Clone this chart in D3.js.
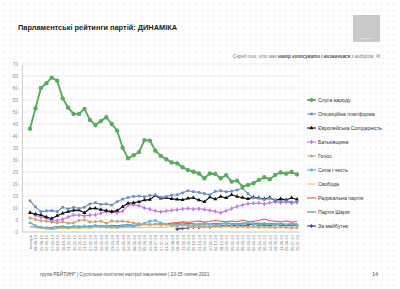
<!DOCTYPE html>
<html>
<head>
<meta charset="utf-8">
<script src="https://cdn.jsdelivr.net/npm/d3@7"></script>
<style>
  html, body { margin: 0; padding: 0; background: #fff; }
  svg { display: block; font-family: Arial, "Liberation Sans", sans-serif; }
</style>
</head>
<body>
<svg id="chart"></svg>
<script>
const categories = ['вибори',
  '08.08.19', '29.08.19', '12.09.19', '27.09.19', '04.10.19', '18.10.19', '01.11.19', '15.11.19', '29.11.19', '13.12.19',
  '17.01.20', '31.01.20', '14.02.20', '28.02.20', '13.03.20', '27.03.20', '10.04.20', '24.04.20', '08.05.20', '22.05.20',
  '05.06.20', '19.06.20', '03.07.20', '17.07.20', '31.07.20', '14.08.20', '28.08.20', '11.09.20', '25.09.20', '09.10.20',
  '23.10.20', '06.11.20', '20.11.20', '04.12.20', '18.12.20', '22.01.21', '05.02.21', '19.02.21', '05.03.21', '19.03.21',
  '02.04.21', '16.04.21', '30.04.21', '14.05.21', '28.05.21', '11.06.21', '25.06.21', '09.07.21', '25.07.21']

const slugaNarodu = [43, 51.5, 60, 62, 64.3, 63, 55.7, 51.8, 49.2, 49.2,
  51.3, 46.7, 44.6, 46.2, 47.8, 45, 42.2, 35.1, 30.7, 32,
  33.3, 38.3, 38.1, 33.9, 31.7, 30.3, 29, 28.6, 27, 25.8,
  25.1, 24.4, 22.4, 24.4, 24.2, 22.4, 23.7, 21, 21.4, 18.9,
  19.6, 20.3, 21.7, 22.8, 22, 23.8, 24.8, 24.3, 25, 24]
const opzzh = [13, 10.5, 8.5, 8.8, 8.9, 8.5, 10.3, 9.6, 10.3, 9.8,
  10.3, 11.7, 12.2, 11.5, 11.7, 11.2, 12.6, 13.7, 14.4, 14.8,
  15, 14.7, 15.2, 15.4, 14.5, 14.8, 15.3, 15.5, 16.3, 17.2,
  16.8, 16.5, 16, 15.5, 16.9, 17.2, 16.8, 17, 17.5, 18.2,
  16, 14.2, 14, 13.5, 14, 13.3, 12.8, 13, 12.5, 12.6]
const evroSolid = [8, 7.5, 7.1, 6.2, 5.6, 6.8, 7.8, 8.5, 9, 9.1,
  8, 9.8, 9.9, 9.3, 8.9, 8.5, 8.9, 10.5, 12, 12.2,
  12.6, 13.3, 13.5, 15.2, 14, 14.3, 13.8, 13.6, 13.4, 14,
  14.2, 13.3, 12.6, 14.5, 13.7, 14.8, 14.2, 15.5, 14.8, 14.3,
  13.8, 14.5, 14.2, 13.8, 14.3, 13.2, 13.8, 13.4, 14.2, 13.6]
const batkivshchyna = [8.2, 7, 6.2, 5.8, 4.5, 4.8, 5.3, 6.2, 7.1, 7,
  6.7, 7, 7.2, 7.8, 8.5, 8.2, 8, 8.6, 11.2, 11.4,
  11, 10, 9.5, 8.8, 8.4, 8.7, 9, 9.3, 9.6, 9.8,
  9.5, 9.7, 9.4, 9, 8.6, 8, 8.8, 9.8, 10.6, 11.2,
  11.8, 12, 12.1, 11.7, 12.2, 12.5, 12.2, 12.4, 12, 12.3]
const golos = [5.8, 5.2, 4.7, 4.5, 4.2, 3.8, 4.3, 3.6, 3.9, 4.8,
  5, 4.2, 4.3, 4.5, 3.6, 4.6, 4.4, 4.5, 4.2, 3.8,
  3.5, 3.3, 3, 3.2, 2.9, 3.1, 2.7, 2.5, 2.8, 2.6,
  2.4, 2.7, 2.5, 2.3, 2.6, 2.2, 2.5, 2.4, 2.1, 2.3,
  2, 2.2, 1.9, 2.1, 2, 1.8, 2.1, 1.9, 1.7, 1.8]
const sylaIChest = [3.8, 2.6, 2, 1.8, 1.5, 1.9, 2.2, 1.8, 2.4, 2.1,
  2.5, 2.2, 2.7, 2.4, 2.1, 2.3, 2, 2.4, 2.6, 2.3,
  2.8, 3.6, 4.5, 4.8, 3.8, 3.2, 3, 2.8, 3.1, 2.9,
  2.7, 3.2, 3.5, 3.1, 2.9, 3.3, 3.6, 3.2, 3, 3.4,
  3.7, 3.3, 3.1, 3.5, 3.2, 3, 3.3, 2.9, 3.1, 2.8]
const svoboda = [2.2, 1.8, 1.5, 1.4, 1.2, 1.5, 1.6, 1.4, 1.7, 1.5,
  1.8, 1.6, 1.9, 2.1, 1.8, 1.6, 1.7, 1.9, 1.8, 2,
  1.7, 1.9, 2.1, 1.8, 2, 1.9, 2.2, 2, 1.8, 2.1,
  1.9, 2, 2.2, 1.9, 2.1, 2, 2.3, 2.1, 2, 2.2,
  2.4, 2.1, 2.3, 2, 2.2, 2.1, 1.9, 2.2, 2, 2.1]
const radykalna = [4, 2.5, 1.6, 1.4, 1.3, 1.5, 1.8, 1.6, 1.9, 1.7,
  2, 1.8, 2.1, 1.9, 2.2, 2, 2.3, 2.1, 2.5, 2.7,
  2.9, 3.1, 3.3, 3, 3.5, 3.4, 3.7, 3.9, 4.2, 4,
  4.3, 4.6, 4.1, 4.4, 4.8, 4.5, 4.2, 4.6, 4.3, 4.9,
  4.5, 4.4, 4.8, 5.4, 4.7, 4.5, 4.2, 4.6, 4.1, 4.4]
const shariy = [2.2, 2, 2.1, 1.8, 2, 2.2, 2.4, 2.1, 2.3, 2.5,
  2.2, 2.6, 2.4, 2.7, 2.5, 2.8, 2.6, 2.9, 3.1, 2.8,
  3, 3.2, 2.9, 3.3, 3.1, 3.4, 3.2, 3.5, 3.3, 3.6,
  3.4, 3.2, 3.5, 3.3, 3.6, 3.4, 3.7, 3.5, 3.3, 3.6,
  3.8, 3.5, 3.7, 3.4, 3.6, 3.3, 3.5, 3.2, 3.4, 3.3]
const zaMaybutnie = [null, null, null, null, null, null, null, null, null, null,
  null, null, null, null, null, null, null, null, null, null,
  null, null, null, null, null, null, null, 1.2, 1.5, 1.8,
  2, 1.9, 2.3, 2.1, 2.5, 2.4, 2.8, 2.6, 3, 2.7,
  2.9, 3.2, 2.8, 3, 2.7, 3.1, 2.9, 2.6, 2.8, 2.7]

const seriesNames = ['Слуга народу', 'Опозиційна платформа', 'Європейська Солідарність', 'Батьківщина',
  'Голос', 'Сила і честь', 'Свобода', 'Радикальна партія', 'Партія Шарія', 'За майбутнє']
const seriesValues = [slugaNarodu, opzzh, evroSolid, batkivshchyna, golos, sylaIChest, svoboda, radykalna, shariy, zaMaybutnie]
const yTicks = d3.range(0, 71, 5)

const colors = ['#5aab5e', '#6a8fc0', '#111111', '#c07ae0', '#d3a070', '#5ab6e2', '#f3c84a', '#e55a4e', '#3f9297', '#3b3d8f']
const symbols = [d3.symbolCircle, d3.symbolSquare, d3.symbolTriangle, d3.symbolDiamond, d3.symbolCircle,
  d3.symbolCircle, null, null, null, d3.symbolCross]

const w = 400
const h = 289
const svg = d3.select('#chart').attr('width', w).attr('height', h)

// faint graph-paper background
const bg = svg.append('g')
for (let x = 4; x < w; x += 6) {
  bg.append('line').attr('x1', x).attr('x2', x).attr('y1', 0).attr('y2', h)
    .attr('stroke', '#f3f3f3').attr('stroke-width', 0.5)
}
for (let y = 4; y < h; y += 6) {
  bg.append('line').attr('y1', y).attr('y2', y).attr('x1', 0).attr('x2', w)
    .attr('stroke', '#f3f3f3').attr('stroke-width', 0.5)
}

svg.append('text')
  .attr('x', 18).attr('y', 30)
  .attr('font-size', 7.4).attr('font-weight', 'bold').attr('fill', '#222')
  .text('Парламентські рейтинги партій: ДИНАМІКА')

svg.append('rect').attr('x', 353).attr('y', 15).attr('width', 27).attr('height', 27).attr('fill', '#c9c9c9')
svg.append('text').attr('x', 366.5).attr('y', 39).attr('text-anchor', 'middle')
  .attr('font-size', 2.5).attr('fill', '#fff').text('РЕЙТИНГ')

const sub = svg.append('text')
  .attr('x', 380).attr('y', 58).attr('text-anchor', 'end')
  .attr('font-size', 4.6).attr('font-style', 'italic').attr('fill', '#777')
sub.append('tspan').text('Серед тих, хто має ')
sub.append('tspan').attr('font-weight', 'bold').attr('fill', '#555').text('намір голосувати і визначився')
sub.append('tspan').text(' з вибором, %')

const xScale = d3.scalePoint().domain(categories).range([30, 297])
const yScale = d3.scaleLinear().domain([0, 70]).range([232, 64])

// horizontal gridlines
svg.append('g').selectAll('line').data(yTicks).enter().append('line')
  .attr('x1', 22).attr('x2', 300)
  .attr('y1', d => yScale(d)).attr('y2', d => yScale(d))
  .attr('stroke', '#e6e6e6').attr('stroke-width', 0.6)

const yAxis = d3.axisLeft(yScale).tickValues(yTicks).tickSize(0).tickPadding(4)
svg.append('g')
  .attr('transform', 'translate(22, 0)')
  .call(yAxis)
  .call(g => g.select('.domain').attr('stroke', '#cfcfcf'))
  .call(g => g.selectAll('text').attr('font-size', 5).attr('fill', '#999').attr('font-family', 'Arial, "Liberation Sans", sans-serif'))

const xAxis = d3.axisBottom(xScale).tickSize(0).tickPadding(3)
svg.append('g')
  .attr('transform', 'translate(0, 232)')
  .call(xAxis)
  .call(g => g.select('.domain').attr('stroke', '#cfcfcf').attr('d', 'M22,0H300'))
  .call(g => g.selectAll('text')
    .attr('font-size', 4.2).attr('fill', '#888')
    .attr('font-family', 'Arial, "Liberation Sans", sans-serif')
    .attr('text-anchor', 'end')
    .attr('transform', 'rotate(-90)')
    .attr('x', -3).attr('y', 0).attr('dy', '0.35em'))

const line = d3.line()
  .defined(d => d != null)
  .x((d, i) => xScale(categories[i]))
  .y(d => yScale(d))

// draw from back (small parties) to front (leader)
const order = [9, 8, 7, 6, 5, 4, 3, 2, 1, 0]
order.forEach(k => {
  const vals = seriesValues[k]
  const big = k === 0
  const g = svg.append('g')
  g.append('path')
    .datum(vals)
    .attr('d', line)
    .attr('fill', 'none')
    .attr('stroke', colors[k])
    .attr('stroke-width', big ? 1.9 : 1.1)
    .attr('stroke-linejoin', 'round')
  if (symbols[k]) {
    g.selectAll('path.pt')
      .data(vals.map((v, i) => [i, v]).filter(p => p[1] != null))
      .enter().append('path')
      .attr('class', 'pt')
      .attr('transform', p => 'translate(' + xScale(categories[p[0]]) + ',' + yScale(p[1]) + ')')
      .attr('d', d3.symbol().type(symbols[k]).size(big ? 15 : 7))
      .attr('fill', colors[k])
  }
})

// legend
const legend = svg.append('g').attr('transform', 'translate(307, 100)')
seriesNames.forEach((name, k) => {
  const row = legend.append('g').attr('transform', 'translate(0,' + k * 14 + ')')
  row.append('line').attr('x1', 0).attr('x2', 9).attr('y1', 0).attr('y2', 0)
    .attr('stroke', colors[k]).attr('stroke-width', k === 0 ? 1.8 : 1.1)
  if (symbols[k]) {
    row.append('path').attr('transform', 'translate(4.5,0)')
      .attr('d', d3.symbol().type(symbols[k]).size(k === 0 ? 12 : 7))
      .attr('fill', colors[k])
  }
  row.append('text').attr('x', 11).attr('y', 0).attr('dy', '0.35em')
    .attr('font-size', 5.2).attr('fill', '#333').text(name)
})

svg.append('text')
  .attr('x', 40).attr('y', 276)
  .attr('font-size', 4.8).attr('fill', '#555')
  .text('група РЕЙТИНГ | Суспільно-політичні настрої населення | 23-25 липня 2021')
svg.append('text')
  .attr('x', 372).attr('y', 276)
  .attr('font-size', 5.5).attr('fill', '#555')
  .text('14')
</script>
</body>
</html>
